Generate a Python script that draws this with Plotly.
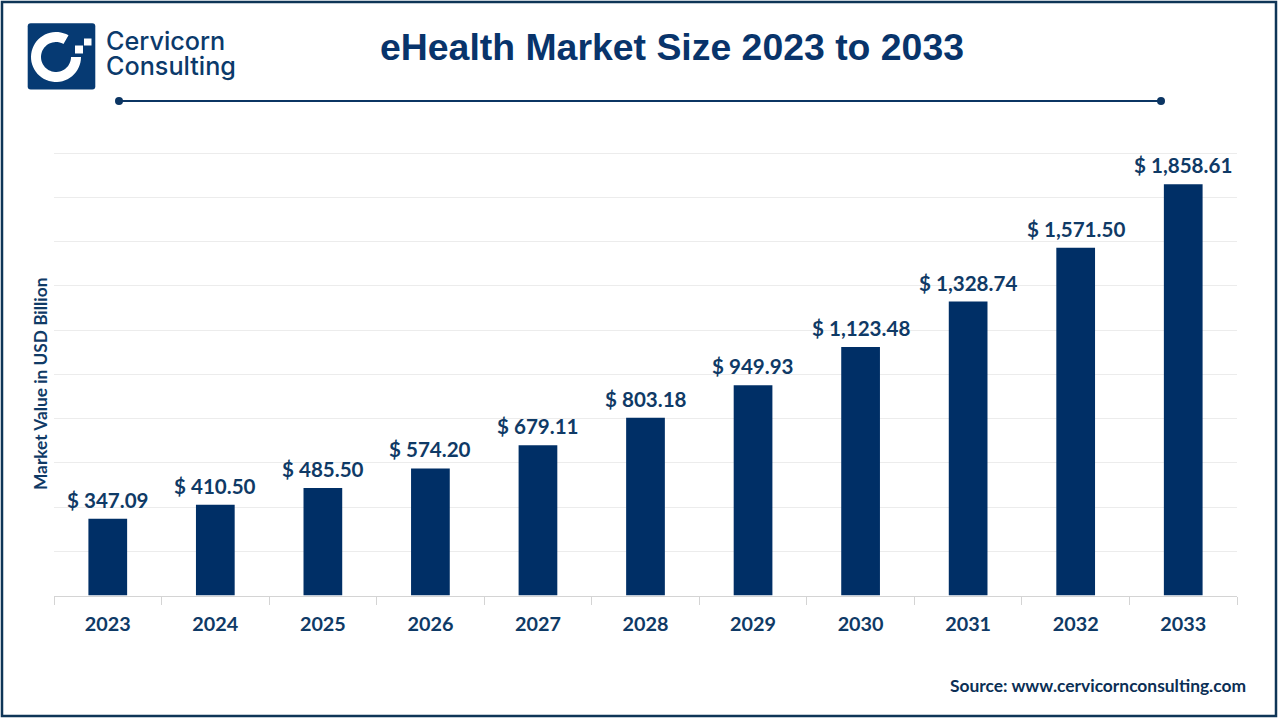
import math
import plotly.graph_objects as go

years = ["2023","2024","2025","2026","2027","2028","2029","2030","2031","2032","2033"]
values = [347.09,410.50,485.50,574.20,679.11,803.18,949.93,1123.48,1328.74,1571.50,1858.61]
labels = ["$ 347.09","$ 410.50","$ 485.50","$ 574.20","$ 679.11","$ 803.18","$ 949.93","$ 1,123.48","$ 1,328.74","$ 1,571.50","$ 1,858.61"]

NAVY = "#002f66"
DARK = "#0f3557"
TXT = "#0f3a66"
W, H = 1280, 720
X0, X1, YT, YB = 54, 1237, 150.8, 595.5
Y_MAX = 2010

def px(x): return x / W
def py(y): return 1 - y / H
def P(x, y): return f"{px(x):.5f},{py(y):.5f}"

def rect(x0, y0, x1, y1, fill, line=None, width=0):
    return dict(type="rect", xref="paper", yref="paper", x0=px(x0), x1=px(x1), y0=py(y0), y1=py(y1),
                fillcolor=fill, line=dict(color=line or fill, width=width), layer="above")

def round_rect(x0, y0, x1, y1, r, fill):
    path = (f"M{P(x0+r,y0)} L{P(x1-r,y0)} Q{P(x1,y0)} {P(x1,y0+r)} L{P(x1,y1-r)} Q{P(x1,y1)} {P(x1-r,y1)} "
            f"L{P(x0+r,y1)} Q{P(x0,y1)} {P(x0,y1-r)} L{P(x0,y0+r)} Q{P(x0,y0)} {P(x0+r,y0)} Z")
    return dict(type="path", xref="paper", yref="paper", path=path, fillcolor=fill, line=dict(width=0), layer="above")

def ring_path(cx, cy, ro, ri, a0, a1, n=48):
    pts = []
    for i in range(n + 1):
        a = math.radians(a0 + (a1 - a0) * i / n)
        pts.append(P(cx + ro * math.cos(a), cy - ro * math.sin(a)))
    for i in range(n, -1, -1):
        a = math.radians(a0 + (a1 - a0) * i / n)
        pts.append(P(cx + ri * math.cos(a), cy - ri * math.sin(a)))
    return "M" + " L".join(pts) + " Z"

shapes = [
    rect(2, 2, 1276, 716, "rgba(0,0,0,0)", DARK, 2.5),
    round_rect(27.7, 23.3, 95.3, 89.5, 3, "#063a73"),
    dict(type="path", xref="paper", yref="paper", path=ring_path(56, 57, 25, 15, 60, 360),
         fillcolor="white", line=dict(width=0), layer="above"),
    rect(75, 45.5, 83, 53.5, "white"),
    rect(84, 38.5, 91.5, 45.5, "white"),
    dict(type="line", xref="paper", yref="paper", x0=px(119), x1=px(1161), y0=py(101), y1=py(101),
         line=dict(color="#0b3563", width=2), layer="above"),
    dict(type="circle", xref="paper", yref="paper", x0=px(115), x1=px(123), y0=py(97), y1=py(105),
         fillcolor="#0b3563", line=dict(width=0), layer="above"),
    dict(type="circle", xref="paper", yref="paper", x0=px(1157), x1=px(1165), y0=py(97), y1=py(105),
         fillcolor="#0b3563", line=dict(width=0), layer="above"),
]

def note(text, x, y, size, family, color, xanchor="left", bold=True, angle=0, weight=None):
    font = dict(size=size, family=family, color=color)
    if weight:
        font["weight"] = weight
    return dict(text=f"<b>{text}</b>" if bold else text, xref="paper", yref="paper", x=px(x), y=py(y),
                xanchor=xanchor, yanchor="middle", showarrow=False, textangle=angle, font=font)

annotations = [
    note("eHealth Market Size 2023 to 2033", 671.5, 47.5, 37.4, "Liberation Sans", "#08346b", "center"),
    note("Cervicorn", 103.5, 41, 25.2, "Inter", "#0b3a6b", bold=False, weight=500),
    note("Consulting", 103.5, 66, 25.2, "Inter", "#0b3a6b", bold=False, weight=500),
    note("Source: www.cervicornconsulting.com", 1248, 685.5, 17.4, "Lato", "#0b2f55", "right"),
    note("Market Value in USD Billion", 40, 384, 17.3, "Lato", TXT, "center", angle=-90),
]
for i, (value, label) in enumerate(zip(values, labels)):
    annotations.append(dict(x=i, y=value, xref="x", yref="y", text=label, showarrow=False,
                            yanchor="bottom", xanchor="center", yshift=5,
                            font=dict(family="Lato", size=20.6, color=TXT, weight="bold")))

fig = go.Figure(go.Bar(
    x=years, y=values, width=0.36, marker=dict(color=NAVY, line=dict(width=0)),
    hoverinfo="x+y",
))
fig.update_layout(
    width=W, height=H, margin=dict(l=0, r=0, t=0, b=0), autosize=False,
    paper_bgcolor="white", plot_bgcolor="white", showlegend=False,
    shapes=shapes, annotations=annotations,
    xaxis=dict(domain=[px(X0), px(X1)], type="category", range=[-0.5, len(years) - 0.5],
               tickson="boundaries", ticks="outside", ticklen=8, tickangle=0,
               tickcolor="#d4d4d4", tickwidth=1, showline=True, linecolor="#d4d4d4", linewidth=1,
               showgrid=False, zeroline=False, ticklabelstandoff=11,
               tickfont=dict(family="Lato", size=19.8, color=TXT, weight="bold")),
    yaxis=dict(domain=[py(YB), py(YT)], range=[0, Y_MAX], dtick=200, showticklabels=False,
               gridcolor="#ececec", gridwidth=1, zeroline=False, ticks=""),
)
fig.write_html("out.html", config=dict(displayModeBar=False), post_script="document.body.style.margin='0';")
